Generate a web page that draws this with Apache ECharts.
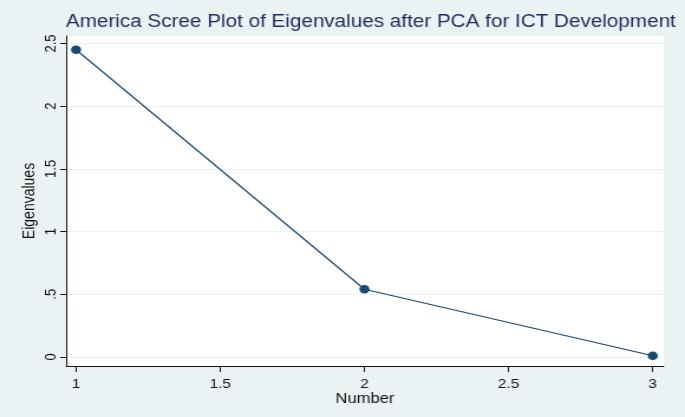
<!DOCTYPE html>
<html>
<head>
<meta charset="utf-8">
<script src="https://cdn.jsdelivr.net/npm/echarts@6/dist/echarts.min.js"></script>
<style>
  html, body { margin: 0; padding: 0; background: #eaf2f3; overflow: hidden; }
  /* the reference is stretched sideways, so draw narrower and scale up */
  #chart { width: 580px; height: 417px; transform: scaleX(1.181); transform-origin: 0 0; }
</style>
</head>
<body>
<div id="chart"></div>
<script>
  // scree plot data
  var numbers = [1, 2, 3];
  var eigenvalues = [2.45, 0.54, 0.01];
  var yTicks = [0, 0.5, 1, 1.5, 2, 2.5];
  var xTicks = [1, 1.5, 2, 2.5, 3];

  var chart = echarts.init(document.getElementById('chart'));

  // stata style: drop leading zero
  function fmt(v) {
    var s = String(v);
    if (s.indexOf('0.') === 0) s = s.substring(1);
    return s;
  }

  chart.setOption({
    backgroundColor: '#eaf2f3',
    animation: false,
    textStyle: { fontFamily: 'Liberation Sans, Arial, sans-serif' },
    title: {
      text: 'America Scree Plot of Eigenvalues after PCA for ICT Development',
      left: 309,          // centred over the plot region
      textAlign: 'center',
      top: 8,
      textStyle: { color: '#1e2d5c', fontSize: 17.5, fontWeight: 'normal' }
    },
    grid: {
      left: 56,
      right: 18,
      top: 36,
      bottom: 51,
      show: true,
      backgroundColor: '#ffffff',
      borderWidth: 0
    },
    xAxis: {
      type: 'value',
      min: 0.9656,
      max: 3.038,
      name: 'Number',
      nameLocation: 'middle',
      nameGap: 26,
      nameMoveOverlap: false,
      nameTextStyle: { color: '#111', fontSize: 14 },
      axisLine: { show: true, onZero: false, lineStyle: { color: '#111', width: 1 } },
      axisTick: { show: true, length: 6, customValues: xTicks, lineStyle: { color: '#111' } },
      axisLabel: {
        customValues: xTicks,
        color: '#111',
        fontSize: 13,
        margin: 12,
        formatter: function (v) { return String(v); }
      },
      splitLine: { show: false }
    },
    yAxis: {
      type: 'value',
      min: -0.072,
      max: 2.56,
      name: 'Eigenvalues',
      nameLocation: 'middle',
      nameGap: 24,
      nameRotate: 90,
      nameMoveOverlap: false,
      nameTextStyle: { color: '#111', fontSize: 14 },
      axisLine: { show: true, onZero: false, lineStyle: { color: '#111', width: 1 } },
      axisTick: { show: true, length: 5, customValues: yTicks, lineStyle: { color: '#111' } },
      axisLabel: {
        customValues: yTicks,
        rotate: 90,
        color: '#111',
        fontSize: 13,
        margin: 6,
        formatter: fmt
      },
      splitLine: { show: true, lineStyle: { color: '#eaf2f3', width: 1 } }
    },
    series: [{
      type: 'line',
      data: numbers.map(function (n, i) { return [n, eigenvalues[i]]; }),
      symbol: 'circle',
      symbolSize: 8.5,
      lineStyle: { color: '#1a476f', width: 1.2 },
      itemStyle: { color: '#1a476f' }
    }]
  });
</script>
</body>
</html>
